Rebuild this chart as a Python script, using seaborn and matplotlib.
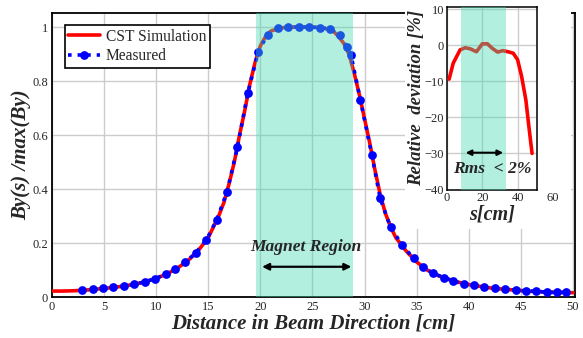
import matplotlib.pyplot as plt
import matplotlib.patches as mpatches
import pandas as pd
import seaborn as sns

# CST simulation, normalised By
sim_s = [0, 1, 2, 3, 4, 5, 6, 7, 8, 9, 10, 11, 12, 13, 14, 15, 16, 16.5, 17, 17.5,
         18, 18.5, 19, 19.5, 20, 20.5, 21, 22, 23, 24, 25, 26, 27, 27.5, 28, 28.5,
         29, 29.5, 30, 30.5, 31, 31.5, 32, 32.5, 33, 34, 35, 36, 37, 38, 39, 40,
         41, 42, 43, 44, 45, 46, 47, 48, 49, 50]
sim_by = [0.022, 0.022, 0.023, 0.025, 0.028, 0.032, 0.036, 0.041, 0.048, 0.057, 0.069,
          0.085, 0.106, 0.133, 0.170, 0.220, 0.300, 0.350, 0.420, 0.500, 0.600, 0.690,
          0.790, 0.870, 0.930, 0.965, 0.985, 0.997, 1.0, 1.0, 1.0, 0.997, 0.985, 0.965,
          0.940, 0.900, 0.830, 0.750, 0.660, 0.570, 0.470, 0.380, 0.310, 0.260, 0.220,
          0.170, 0.130, 0.100, 0.080, 0.066, 0.055, 0.046, 0.040, 0.034, 0.030, 0.027,
          0.024, 0.021, 0.019, 0.018, 0.017, 0.016]

# measured points
meas_s = [2.9, 3.9, 4.9, 5.9, 6.9, 7.9, 8.9, 9.9, 10.9, 11.8, 12.8, 13.8, 14.8, 15.8,
          16.8, 17.8, 18.8, 19.8, 20.7, 21.7, 22.7, 23.7, 24.7, 25.7, 26.7, 27.6, 28.3,
          28.7, 29.6, 30.7, 31.5, 32.5, 33.6, 34.7, 35.6, 36.6, 37.6, 38.5, 39.5, 40.5,
          41.5, 42.5, 43.5, 44.5, 45.5, 46.5, 47.5, 48.5, 49.3]
meas_by = [0.026, 0.029, 0.033, 0.036, 0.040, 0.047, 0.056, 0.068, 0.084, 0.103, 0.128,
           0.164, 0.210, 0.285, 0.390, 0.555, 0.757, 0.909, 0.972, 0.995, 1.0, 1.0, 1.0,
           0.998, 0.993, 0.970, 0.927, 0.896, 0.730, 0.526, 0.365, 0.258, 0.193, 0.143,
           0.110, 0.088, 0.072, 0.060, 0.047, 0.044, 0.036, 0.032, 0.028, 0.026, 0.022,
           0.022, 0.017, 0.017, 0.017]

# relative deviation (inset)
dev_s = [1.2, 3.5, 7.4, 10.3, 13.2, 16.7, 20.0, 22.9, 25.5, 28.7, 31.6, 34.5, 37.5,
         40.0, 42.3, 44.7, 46.2, 48.2]
dev_pct = [-9.4, -5.0, -1.3, -0.7, -1.0, -1.8, 0.4, 0.4, -0.8, -1.9, -1.5, -1.8, -2.2,
           -4.0, -8.7, -15.2, -21.7, -30.0]

magnet_main = (19.6, 28.9)
magnet_inset = (8.2, 33.6)

sim = pd.DataFrame({"s": sim_s, "by": sim_by})
meas = pd.DataFrame({"s": meas_s, "by": meas_by})
dev = pd.DataFrame({"s": dev_s, "dev": dev_pct})

sns.set_style("white")
plt.rcParams["font.family"] = ["Liberation Serif", "DejaVu Serif"]

fig = plt.figure(figsize=(5.83, 3.38), dpi=100)
ax = fig.add_axes([52 / 583, 41 / 338, 523 / 583, 284 / 338])

sns.lineplot(data=sim, x="s", y="by", ax=ax, color="red", lw=2.6,
             label="CST Simulation", zorder=3)
sns.lineplot(data=meas, x="s", y="by", ax=ax, color="blue", lw=2.6, ls=":",
             marker="o", markersize=6.3, markeredgewidth=0, label="Measured", zorder=4)
ax.axvspan(*magnet_main, color="#40d9b0", alpha=0.4, lw=0, zorder=5)

ax.set_xlim(0, 50.2)
ax.set_ylim(0, 1.052)
ax.set_xticks(range(0, 51, 5))
ax.set_yticks([0, 0.2, 0.4, 0.6, 0.8, 1.0])
ax.set_yticklabels(["0", "0.2", "0.4", "0.6", "0.8", "1"])
ax.grid(True, color="#cccccc", lw=1)
ax.tick_params(length=0, labelsize=9, pad=3)
for sp in ax.spines.values():
    sp.set_color("black")
    sp.set_linewidth(1.3)
ax.set_xlabel("Distance in Beam Direction [cm]", fontsize=15, fontweight="bold",
              style="italic", labelpad=0)
ax.set_ylabel("By(s) /max(By)", fontsize=15, fontweight="bold", style="italic",
              labelpad=1)

leg = ax.legend(loc="upper left", bbox_to_anchor=(0.018, 0.97), fontsize=11.2,
                fancybox=False, frameon=True, edgecolor="black", handlelength=2.0,
                borderpad=0.25, labelspacing=0.25, handletextpad=0.4, borderaxespad=0.2)
leg.get_frame().set_linewidth(1.2)
leg.get_frame().set_alpha(1)

ax.annotate("", xy=(magnet_main[0] + 0.3, 0.112), xytext=(magnet_main[1] + 0.1, 0.112),
            arrowprops=dict(arrowstyle="<|-|>", color="black", lw=1.6,
                            mutation_scale=10), zorder=6)
ax.text(24.4, 0.185, "Magnet Region", ha="center", va="center", fontsize=12.6,
        fontweight="bold", style="italic", zorder=6)

# white box behind the inset
fig.patches.append(mpatches.Rectangle((405 / 583, 109 / 338), 166 / 583, 229 / 338,
                                      transform=fig.transFigure, facecolor="white",
                                      edgecolor="none", zorder=1))

ax_in = fig.add_axes([447 / 583, 148.5 / 338, 90 / 583, 182.5 / 338])
ax_in.set_zorder(2)
sns.lineplot(data=dev, x="s", y="dev", ax=ax_in, color="red", lw=2.6, zorder=3)
ax_in.axvspan(*magnet_inset, color="#40d9b0", alpha=0.4, lw=0, zorder=4)
ax_in.set_xlim(0, 51)
ax_in.set_ylim(-40, 10.6)
ax_in.set_xticks([0, 20, 40])
ax_in.set_yticks([-40, -30, -20, -10, 0, 10])
ax_in.set_yticklabels(["\u221240", "\u221230", "\u221220", "\u221210", "0", "10"])
ax_in.grid(True, color="#cccccc", lw=1)
ax_in.tick_params(length=0, labelsize=9, pad=2)
ax_in.annotate("60", xy=(60, 0), xycoords=("data", "axes fraction"), xytext=(0, -2),
               textcoords="offset points", ha="center", va="top", fontsize=9,
               annotation_clip=False)
for sp in ax_in.spines.values():
    sp.set_color("black")
    sp.set_linewidth(1.1)
ax_in.set_xlabel("s[cm]", fontsize=14.5, fontweight="bold", style="italic", labelpad=0)
ax_in.set_ylabel("Relative  deviation [%]", fontsize=13.5, fontweight="bold",
                 style="italic", labelpad=0)
ax_in.annotate("", xy=(magnet_inset[0] + 0.8, -29.8), xytext=(magnet_inset[1] - 0.2, -29.8),
               arrowprops=dict(arrowstyle="<|-|>", color="black", lw=1.5,
                               mutation_scale=8), zorder=6)
ax_in.text(25.6, -34.2, "Rms  < 2%", ha="center", va="center", fontsize=12.6,
           fontweight="bold", style="italic", zorder=6)

fig.savefig("out.png", dpi=100)
